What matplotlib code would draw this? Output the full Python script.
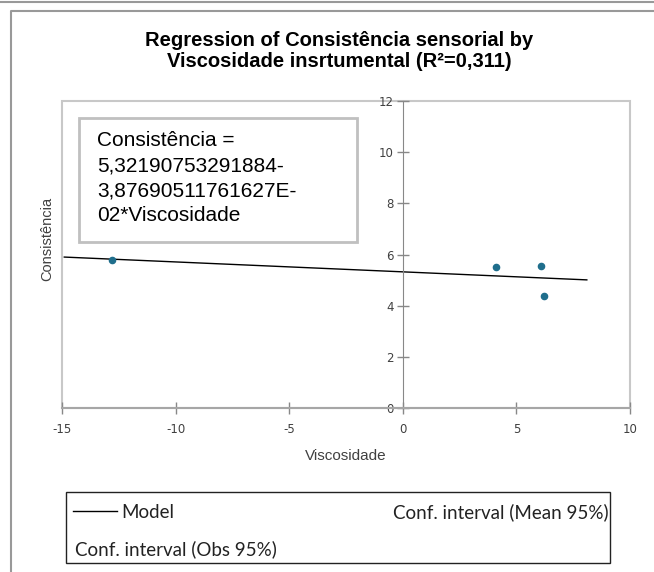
import matplotlib.pyplot as plt
import numpy as np
from matplotlib.lines import Line2D
from matplotlib.patches import Rectangle

# data
viscosidade = [-12.8, 4.1, 6.1, 6.2]
consistencia = [5.8, 5.5, 5.55, 4.37]
intercept = 5.32190753291884
slope = -3.87690511761627e-02
model_range = [-14.9, 8.1]
x_ticks = [-15, -10, -5, 0, 5, 10]
y_ticks = [0, 2, 4, 6, 8, 10, 12]

title = "Regression of Consistência sensorial by\nViscosidade insrtumental (R²=0,311)"
equation = "Consistência =\n5,32190753291884-\n3,87690511761627E-\n02*Viscosidade"

plt.rcParams["axes.unicode_minus"] = False

W, H = 654, 572
fig = plt.figure(figsize=(W / 100, H / 100), dpi=100)

# outer frames (Excel chart area)
fig.add_artist(Line2D([0, 1], [1 - 1.5 / H, 1 - 1.5 / H], color="#999999", lw=1.5))
fig.add_artist(Line2D([10.5 / W, 10.5 / W, 1], [0, 1 - 10.5 / H, 1 - 10.5 / H],
                      color="#999999", lw=1.5))

left, right, top, bottom = 62, 630, 101, 408
ax = fig.add_axes([left / W, 1 - bottom / H, (right - left) / W, (bottom - top) / H])

xm = np.array(model_range)
ax.plot(xm, intercept + slope * xm, color="black", lw=1)
ax.scatter(viscosidade, consistencia, s=20, color="#1f6e8c", zorder=3)

ax.set_xlim(-15, 10)
ax.set_ylim(0, 12)
ax.set_xticks(x_ticks)
ax.set_yticks(y_ticks)

for s in ["top", "right"]:
    ax.spines[s].set_visible(False)
ax.spines["left"].set_position(("data", 0))
ax.spines["left"].set_color("#888888")
ax.spines["bottom"].set_color("#a6a6a6")
ax.spines["bottom"].set_linewidth(1.5)
ax.add_patch(Rectangle((0, 0), 1, 1, transform=ax.transAxes, fill=False,
                       ec="#c8c8c8", lw=1.5, clip_on=False, zorder=0))

ax.tick_params(axis="both", direction="inout", length=9, width=1,
               colors="#888888", labelcolor="#404040", labelsize=8.5)
ax.tick_params(axis="y", pad=2)
ax.tick_params(axis="x", pad=6)

ax.set_xlabel("Viscosidade", family="Liberation Sans", fontsize=11, color="#404040")
ax.xaxis.set_label_coords(0.5, -0.135)
ax.set_ylabel("Consistência", family="Liberation Sans", fontsize=10.5, color="#404040")
ax.yaxis.set_label_coords(-0.014, 0.55)

fig.text(339 / W, 1 - 51 / H, title, ha="center", va="center",
         family="Liberation Sans", fontweight="bold", fontsize=14.5, linespacing=1.1)

# equation box
fig.add_artist(Rectangle((79 / W, 1 - 242 / H), 278 / W, 124 / H,
                         fill=False, ec="#c0c0c0", lw=2))
fig.text(97 / W, 1 - 178 / H, equation, ha="left", va="center",
         family="Liberation Sans", fontsize=15, linespacing=1.4)

# legend box
fig.add_artist(Rectangle((66 / W, 1 - 563 / H), 544 / W, 71 / H,
                         fill=False, ec="#222222", lw=1))
fig.add_artist(Line2D([73 / W, 117 / W], [1 - 511 / H, 1 - 511 / H], color="black", lw=1))
leg_font = dict(family="Lato", fontsize=13.5, color="#222222", va="center")
fig.text(121 / W, 1 - 512 / H, "Model", ha="left", **leg_font)
fig.text(609 / W, 1 - 512 / H, "Conf. interval (Mean 95%)", ha="right", **leg_font)
fig.text(75 / W, 1 - 549 / H, "Conf. interval (Obs 95%)", ha="left", **leg_font)

fig.savefig("out.png", dpi=100)
